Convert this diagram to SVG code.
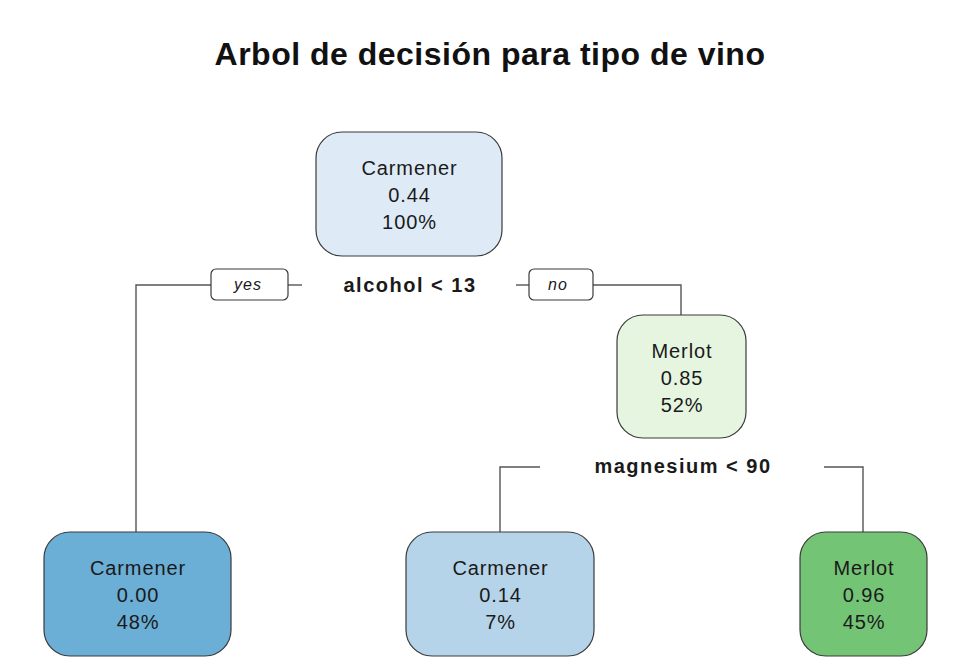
<svg xmlns="http://www.w3.org/2000/svg" width="960" height="669" viewBox="0 0 960 669">
<style>
.node rect{stroke:#3a3a3a;stroke-width:1.2}
.node text{font-family:"Liberation Sans",Arial,sans-serif;font-size:20px;letter-spacing:0.9px;fill:#1a1a1a;text-anchor:middle}
.split{font-family:"Liberation Sans",Arial,sans-serif;font-size:20px;letter-spacing:1.5px;font-weight:bold;fill:#1a1a1a;text-anchor:middle}
.lab rect{fill:#fff;stroke:#3a3a3a;stroke-width:1.2}
.lab text{font-family:"Liberation Sans",Arial,sans-serif;font-size:16px;letter-spacing:1px;font-style:italic;fill:#1a1a1a;text-anchor:middle}
#connectors path{fill:none;stroke:#555;stroke-width:1.4}
</style>
<rect width="960" height="669" fill="#fff"/>
<text x="490" y="65" font-family="Liberation Sans,Arial,sans-serif" font-size="32" font-weight="bold" letter-spacing="0.5" text-anchor="middle" fill="#111">Arbol de decisión para tipo de vino</text>
<g id="connectors">
<path d="M211 285 H136 V532"/>
<path d="M288 285 H302"/>
<path d="M516 285 H529"/>
<path d="M593 285 H681 V315"/>
<path d="M540 467 H500 V532"/>
<path d="M824 467 H863 V532"/>
</g>
<g class="lab" id="label-yes"><rect x="211" y="269" width="77" height="31" rx="5"/><text x="248" y="290">yes</text></g>
<g class="lab" id="label-no"><rect x="529" y="269" width="64" height="31" rx="5"/><text x="558" y="290">no</text></g>
<text class="split" x="410" y="292">alcohol &lt; 13</text>
<text class="split" x="683" y="473">magnesium &lt; 90</text>
<g class="node" id="node1"><rect x="316" y="132" width="186" height="124" rx="26" fill="#DEEBF7"/><text x="409.5" y="175">Carmener</text><text x="409.5" y="202">0.44</text><text x="409.5" y="229">100%</text></g>
<g class="node" id="node3"><rect x="617" y="315" width="129" height="123" rx="26" fill="#E5F5E0"/><text x="682" y="358">Merlot</text><text x="682" y="385">0.85</text><text x="682" y="412">52%</text></g>
<g class="node" id="node2"><rect x="44" y="532" width="187" height="124" rx="26" fill="#6BAED6"/><text x="138" y="575">Carmener</text><text x="138" y="602">0.00</text><text x="138" y="629">48%</text></g>
<g class="node" id="node6"><rect x="406" y="532" width="188" height="124" rx="26" fill="#B6D4E9"/><text x="500.5" y="575">Carmener</text><text x="500.5" y="602">0.14</text><text x="500.5" y="629">7%</text></g>
<g class="node" id="node7"><rect x="800" y="532" width="127" height="124" rx="26" fill="#74C476"/><text x="864" y="575">Merlot</text><text x="864" y="602">0.96</text><text x="864" y="629">45%</text></g>
</svg>
